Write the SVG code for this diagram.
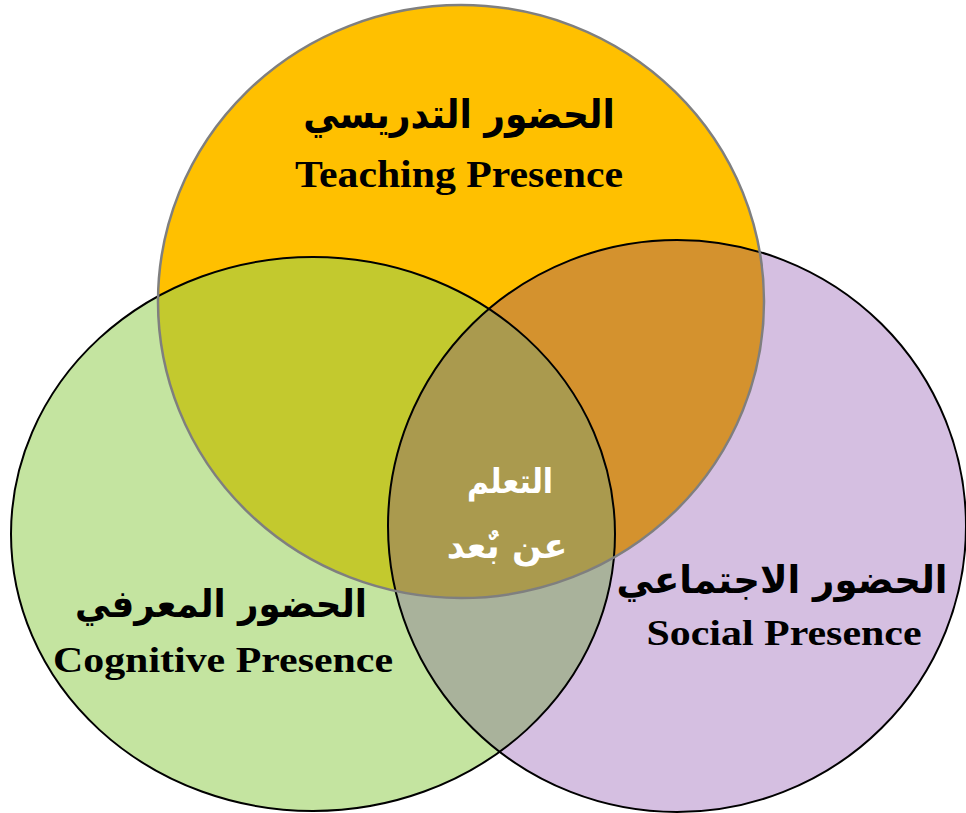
<svg xmlns="http://www.w3.org/2000/svg" xmlns:xlink="http://www.w3.org/1999/xlink" width="966" height="813" viewBox="0 0 966 813">
<style>
.ar{font-family:"DejaVu Sans",sans-serif;font-weight:bold;text-anchor:middle}
.en{font-family:"Liberation Serif",serif;font-weight:bold;text-anchor:middle;fill:#000}
.edge{fill:none;stroke:#000;stroke-width:2}
</style>
<defs>
<ellipse id="eT" cx="461" cy="301.5" rx="303" ry="296.5"/>
<ellipse id="eG" cx="313" cy="534" rx="302" ry="277"/>
<ellipse id="eP" cx="677" cy="526" rx="289" ry="286"/>
<clipPath id="cG"><use xlink:href="#eG"/></clipPath>
<clipPath id="cP"><use xlink:href="#eP"/></clipPath>
</defs>
<rect width="966" height="813" fill="#fff"/>
<g id="cognitive"><use xlink:href="#eG" fill="#C4E4A0"/></g>
<g id="social"><use xlink:href="#eP" fill="#D5BFE1"/></g>
<g id="overlap-cognitive-social"><use xlink:href="#eG" clip-path="url(#cP)" fill="#A9B29B"/></g>
<g id="teaching"><use xlink:href="#eT" fill="#FFC000"/></g>
<g id="overlaps">
<use xlink:href="#eT" clip-path="url(#cG)" fill="#C3C92E"/>
<use xlink:href="#eT" clip-path="url(#cP)" fill="#D4922E"/>
<g clip-path="url(#cP)"><use xlink:href="#eT" clip-path="url(#cG)" fill="#AA9A4E"/></g>
</g>
<g id="outlines">
<use xlink:href="#eG" class="edge"/>
<use xlink:href="#eP" class="edge"/>
<use xlink:href="#eT" fill="none" stroke="#7F7F7F" stroke-width="2.5"/>
</g>
<g id="teaching-label">
<text class="ar" transform="translate(459,128) scale(0.9,1)" font-size="40" fill="#000">الحضور التدريسي</text>
<text class="en" x="459" y="187" font-size="37" textLength="328" lengthAdjust="spacingAndGlyphs">Teaching Presence</text>
</g>
<g id="cognitive-label">
<text class="ar" transform="translate(221,617) scale(0.935,1)" font-size="38" fill="#000">الحضور المعرفي</text>
<text class="en" x="223" y="672" font-size="36" textLength="340" lengthAdjust="spacingAndGlyphs">Cognitive Presence</text>
</g>
<g id="social-label">
<text class="ar" transform="translate(782,593) scale(0.976,1)" font-size="38" fill="#000">الحضور الاجتماعي</text>
<text class="en" x="784" y="645" font-size="36" textLength="275" lengthAdjust="spacingAndGlyphs">Social Presence</text>
</g>
<g id="center-label">
<text class="ar" transform="translate(510,493) scale(0.88,1)" font-size="34" fill="#fff">التعلم</text>
<text class="ar" x="507" y="558" font-size="35" fill="#fff">عن بٌعد</text>
</g>
</svg>
